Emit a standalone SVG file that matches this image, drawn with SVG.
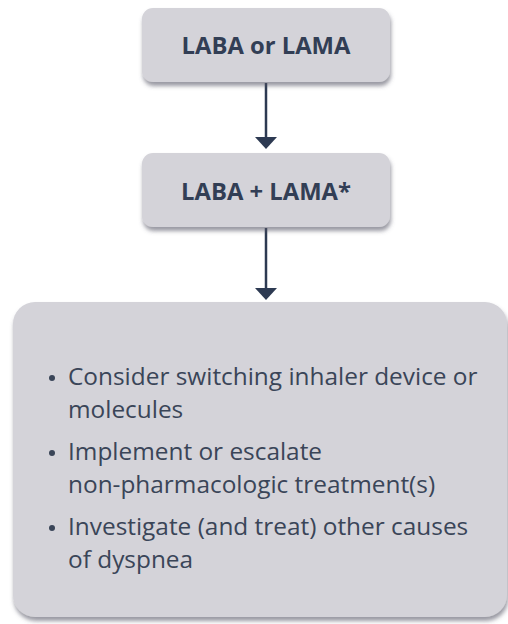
<svg xmlns="http://www.w3.org/2000/svg" width="508" height="624" viewBox="0 0 508 624">
<defs>
<filter id="sh" x="-10%" y="-10%" width="120%" height="130%">
<feDropShadow dx="1" dy="4" stdDeviation="2" flood-color="#555566" flood-opacity="0.6"/>
</filter>
<style>
.box{fill:#d4d3d9;filter:url(#sh);}
.lbl{font-family:"Open Sans","Liberation Sans",sans-serif;font-weight:bold;font-size:23.8px;fill:#323e55;text-anchor:middle;}
.txt{font-family:"Open Sans","Liberation Sans",sans-serif;font-size:24.4px;fill:#3a4558;}
.bul{fill:#3a4558;}
.con{stroke:#2d3a52;stroke-width:2.5;fill:none;}
.head{fill:#2d3a52;}
</style>
</defs>
<rect width="508" height="624" fill="#ffffff"/>
<g id="connectors">
<line class="con" x1="266" y1="83" x2="266" y2="140"/>
<path class="head" d="M255,137 L277,137 L266,149 Z"/>
<line class="con" x1="266" y1="228" x2="266" y2="290"/>
<path class="head" d="M255,288 L277,288 L266,300 Z"/>
</g>
<g id="node1">
<rect class="box" x="142" y="8" width="248" height="74" rx="11"/>
<text class="lbl" x="266" y="54">LABA or LAMA</text>
</g>
<g id="node2">
<rect class="box" x="142" y="153" width="248" height="74" rx="11"/>
<text class="lbl" x="266" y="200">LABA + LAMA*</text>
</g>
<g id="node3">
<rect class="box" x="13" y="302" width="494" height="315" rx="22"/>
<circle class="bul" cx="52" cy="378" r="3"/>
<text class="txt" x="68" y="385">Consider switching inhaler device or</text>
<text class="txt" x="68" y="418">molecules</text>
<circle class="bul" cx="52" cy="453" r="3"/>
<text class="txt" x="68" y="460">Implement or escalate</text>
<text class="txt" x="68" y="493">non-pharmacologic treatment(s)</text>
<circle class="bul" cx="52" cy="528" r="3"/>
<text class="txt" x="68" y="535">Investigate (and treat) other causes</text>
<text class="txt" x="68" y="568">of dyspnea</text>
</g>
</svg>
